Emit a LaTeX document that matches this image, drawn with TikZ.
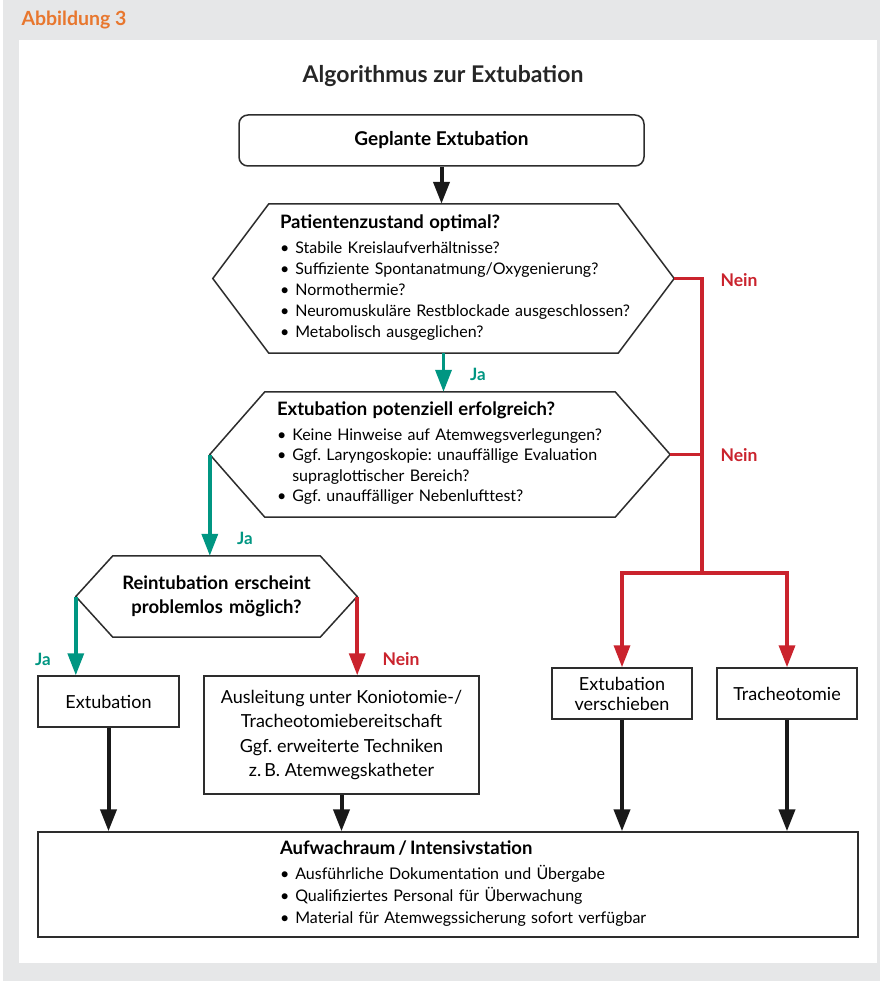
\documentclass[tikz,border=0pt]{standalone}
\usepackage{fontspec}
\setmainfont{Lato}
\usetikzlibrary{arrows.meta,positioning}
\frenchspacing
\definecolor{jagreen}{RGB}{0,150,130}
\definecolor{neinred}{RGB}{202,35,45}
\definecolor{figorange}{RGB}{232,119,46}
\definecolor{panelgray}{RGB}{230,231,232}
\definecolor{framegray}{RGB}{45,45,45}
\newcommand{\hexframe}[2]{%
  \draw[framegray,line width=1.5pt,line join=miter]
    (#1.north west) -- (#1.north east) -- ([xshift=#2]#1.east)
    -- (#1.south east) -- (#1.south west) -- ([xshift=-#2]#1.west) -- cycle;}
\newcommand{\headfont}{\fontsize{18.5}{24}\selectfont\bfseries}
\tikzset{
flow/.style={x=1pt,y=-1pt,>={Triangle[width=16pt,length=22pt]}},
box/.style={rectangle,draw=framegray,line width=1.5pt,fill=white,
  align=center,inner sep=0pt,font=\fontsize{18}{24.5}\selectfont},
startbox/.style={box,rounded corners=9pt,font=\fontsize{19}{24}\selectfont\bfseries},
question/.style={rectangle,inner ysep=0pt,align=left},
yes/.style={->,jagreen,line width=3.5pt},
no/.style={->,neinred,line width=3.5pt,line join=miter},
nextstep/.style={->,black!90,line width=4pt},
yeslabel/.style={text=jagreen,font=\fontsize{17}{17}\selectfont\bfseries},
nolabel/.style={text=neinred,font=\fontsize{17.5}{17}\selectfont\bfseries},
}

\begin{document}
\begin{tikzpicture}[flow]
\useasboundingbox (0,0) rectangle (880,981);
\fill[panelgray] (3,0) rectangle (880,981);
\fill[white] (19,40) rectangle (877,963);

\node[anchor=west,text=figorange,font=\fontsize{19.5}{22}\selectfont\bfseries] (fig) at (18,20) {Abbildung 3};
\node[font=\fontsize{23}{26}\selectfont\bfseries,text=black!85] (title) at (443,76) {Algorithmus zur Extubation};

\node[startbox,minimum width=405,minimum height=51] (start) at (441.5,140.5) {Geplante Extubation};

% Entscheidung 1
\node[question,minimum height=149,text width=327,inner xsep=11,font=\fontsize{16}{21}\selectfont] (cond) at (443.5,278.5) {%
  \begin{tabular}{@{}l@{\hspace{6pt}}l@{}}
  \multicolumn{2}{@{}l}{\headfont Patientenzustand optimal?}\\[4pt]
  \textbullet & Stabile Kreislaufverhältnisse?\\
  \textbullet & Suffiziente Spontanatmung/Oxygenierung?\\
  \textbullet & Normothermie?\\
  \textbullet & Neuromuskuläre Restblockade ausgeschlossen?\\
  \textbullet & Metabolisch ausgeglichen?
  \end{tabular}};
\hexframe{cond}{56pt}

% Entscheidung 2
\node[question,minimum height=125,text width=326,inner xsep=12,font=\fontsize{16}{20.5}\selectfont] (succ) at (440,454.5) {%
  \begin{tabular}{@{}l@{\hspace{6pt}}l@{}}
  \multicolumn{2}{@{}l}{\headfont Extubation potenziell erfolgreich?}\\[4.5pt]
  \textbullet & Keine Hinweise auf Atemwegsverlegungen?\\
  \textbullet & Ggf. Laryngoskopie: unauffällige Evaluation\\
   & supraglottischer Bereich?\\
  \textbullet & Ggf. unauffälliger Nebenlufttest?
  \end{tabular}};
\hexframe{succ}{55pt}

% Entscheidung 3
\node[question,align=center,minimum height=81,text width=207,inner xsep=0,font=\headfont] (reint) at (216.5,596.5)
  {Reintubation erscheint\\problemlos möglich?};
\hexframe{reint}{37pt}

\coordinate (condR) at ([xshift=56pt]cond.east);
\coordinate (succR) at ([xshift=55pt]succ.east);
\coordinate (succL) at ([xshift=-55pt]succ.west);
\coordinate (reintL) at ([xshift=-37pt]reint.west);
\coordinate (reintR) at ([xshift=37pt]reint.east);
\coordinate (split) at (702,573);

\node[box,minimum width=141,minimum height=51] (extub) at (108.5,701.5) {Extubation};
\node[box,minimum width=275,minimum height=118] (exit) at (341.5,735)
  {Ausleitung unter Koniotomie-/\\Tracheotomiebereitschaft\\Ggf. erweiterte Techniken\\z.\,B. Atemwegskatheter};
\node[box,minimum width=140,minimum height=51,font=\fontsize{18}{20}\selectfont] (later) at (622,693.5) {Extubation\\verschieben};
\node[box,minimum width=140,minimum height=51] (tracheo) at (787,693.5) {Tracheotomie};

\node[box,minimum width=820,minimum height=105,text width=336,inner xsep=242,align=left,font=\fontsize{16}{22}\selectfont] (ward) at (448,884.5) {%
  \begin{tabular}{@{}l@{\hspace{6pt}}l@{}}
  \multicolumn{2}{@{}l}{\headfont Aufwachraum\,/\,Intensivstation}\\[3pt]
  \textbullet & Ausführliche Dokumentation und Übergabe\\
  \textbullet & Qualifiziertes Personal für Überwachung\\
  \textbullet & Material für Atemwegssicherung sofort verfügbar
  \end{tabular}};

% Verbindungen
\draw[nextstep] (start.south) -- (start.south |- cond.north);
\draw[yes] (cond.south) -- (cond.south |- succ.north);
\draw[yes] (succL) -- (succL |- reint.north);
\draw[yes] (reintL) -- (reintL |- extub.north);
\draw[no] (reintR) -- (reintR |- exit.north);
\draw[neinred,line width=3.5pt,line join=miter] (condR) -| (split);
\draw[neinred,line width=3.5pt] (succR) -- (succR -| split);
\draw[no] (split) -| (later.north);
\draw[no] (split) -| (tracheo.north);
\draw[nextstep] (extub.south) -- (extub.south |- ward.north);
\draw[nextstep] (exit.south) -- (exit.south |- ward.north);
\draw[nextstep] (later.south) -- (later.south |- ward.north);
\draw[nextstep] (tracheo.south) -- (tracheo.south |- ward.north);

\node[yeslabel] (ja1) at (478,374) {Ja};
\node[yeslabel] (ja2) at (245,538) {Ja};
\node[yeslabel] (ja3) at (43,659) {Ja};
\node[nolabel] (nein1) at (739,280) {Nein};
\node[nolabel] (nein2) at (739,455) {Nein};
\node[nolabel] (nein3) at (401,659) {Nein};
\end{tikzpicture}
\end{document}
